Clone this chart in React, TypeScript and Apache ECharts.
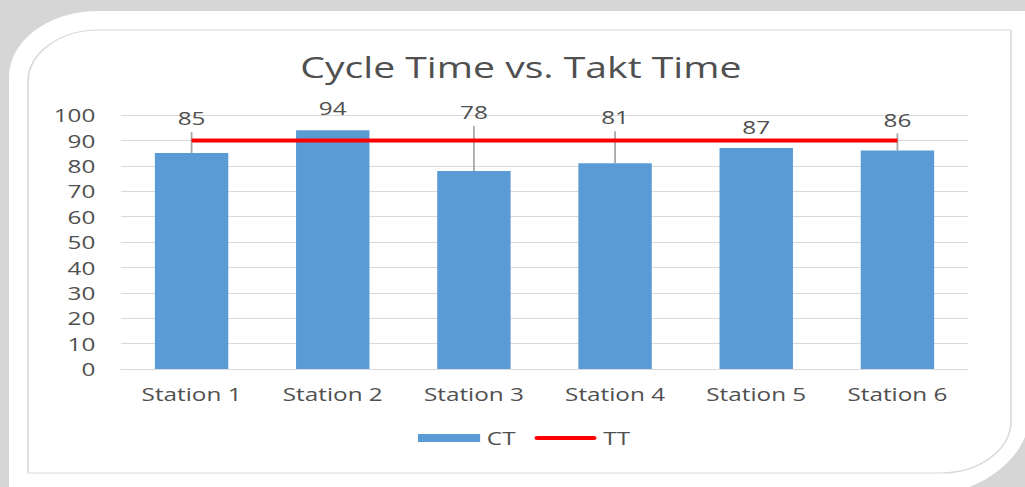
import React, { useEffect, useRef } from "react";
import * as echarts from "echarts";

const categories = ["Station 1", "Station 2", "Station 3", "Station 4", "Station 5", "Station 6"];
const ctValues = [85, 94, 78, 81, 87, 86];
const ttValues = [90, 90, 90, 90, 90, 90];
const yMin = 0;
const yMax = 100;
const yStep = 10;
const titleText = "Cycle Time vs. Takt Time";

// layout (pixels above bar top for data labels, leader line drawn when large)
const labelRaise = [21, 8, 45, 32, 7, 17];

const FULL_W = 1025;
const FULL_H = 487;
const CW = 759; // chart drawn at this width, then stretched horizontally to 1025
const SX = FULL_W / CW;
const FONT = "'Open Sans', 'DejaVu Sans', sans-serif";
const TEXT = "#505050";
const SHADE = "#d6d6d6";

function rectEl(x: number, y: number, w: number, h: number, fill: string, z: number) {
  return { type: "rect", z, silent: true, shape: { x, y, width: w, height: h }, style: { fill } };
}

function panelPieces(x0: number, y0: number, xr: number, yb: number, r1: number, r3: number, fill: string, z: number) {
  return [
    rectEl(x0 + r1, y0, xr - x0 - r1, yb - r3 - y0, fill, z),
    rectEl(x0, y0 + r1, xr - r3 - x0, yb - y0 - r1, fill, z),
    { type: "circle", z, silent: true, shape: { cx: x0 + r1, cy: y0 + r1, r: r1 }, style: { fill } },
    { type: "circle", z, silent: true, shape: { cx: xr - r3, cy: yb - r3, r: r3 }, style: { fill } },
  ];
}

function borderPieces(x0: number, y0: number, xr: number, yb: number, r: number, stroke: string, z: number) {
  const st = { stroke, lineWidth: 1.2, fill: "none" };
  return [
    { type: "line", z, silent: true, shape: { x1: x0 + r, y1: y0, x2: xr, y2: y0 }, style: st },
    { type: "line", z, silent: true, shape: { x1: xr, y1: y0, x2: xr, y2: yb - r }, style: st },
    { type: "line", z, silent: true, shape: { x1: xr - r, y1: yb, x2: x0, y2: yb }, style: st },
    { type: "line", z, silent: true, shape: { x1: x0, y1: yb, x2: x0, y2: y0 + r }, style: st },
    { type: "arc", z, silent: true, shape: { cx: x0 + r, cy: y0 + r, r, startAngle: Math.PI, endAngle: Math.PI * 1.5, clockwise: true }, style: st },
    { type: "arc", z, silent: true, shape: { cx: xr - r, cy: yb - r, r, startAngle: 0, endAngle: Math.PI * 0.5, clockwise: true }, style: st },
  ];
}

export default function App() {
  const ref = useRef<HTMLDivElement>(null);
  useEffect(() => {
    if (!ref.current) return;
    const chart = echarts.init(ref.current, null, { renderer: "svg" });
    const u = (x: number) => x / SX;
    const px0 = u(9), py0 = 11, pxr = u(1030), pyb = 497, r1 = 66, r3 = 85;
    chart.setOption({
      animation: false,
      backgroundColor: "#ffffff",
      textStyle: { fontFamily: FONT },
      graphic: [
        rectEl(0, 0, CW, py0, SHADE, -10),
        rectEl(0, 0, px0, FULL_H, SHADE, -10),
        rectEl(0, 0, px0 + r1, py0 + r1, SHADE, -10),
        rectEl(pxr - r3, pyb - r3, CW - (pxr - r3), FULL_H - (pyb - r3), SHADE, -10),
        ...panelPieces(px0, py0, pxr, pyb, r1, r3, "#ffffff", -8),
        ...borderPieces(u(28), 30, u(1011), 473, 52, "#d9d9d9", -7),
      ],
      title: {
        text: titleText,
        left: u(515) - 164,
        top: 47,
        textStyle: { fontFamily: FONT, fontSize: 29, fontWeight: "normal", color: TEXT },
      },
      legend: {
        left: u(418),
        top: 429,
        padding: 0,
        itemWidth: 46,
        itemHeight: 8,
        itemGap: 14,
        textStyle: { fontFamily: FONT, fontSize: 18, color: TEXT },
        data: [
          { name: "CT", icon: "rect" },
          { name: "TT", icon: "path://M2,0H44A2,2 0 0 1 44,4H2A2,2 0 0 1 2,0Z" },
        ],
      },
      grid: { left: u(121), right: CW - u(968), top: 115, bottom: FULL_H - 369 },
      xAxis: {
        type: "category",
        data: categories,
        axisLine: { show: true, lineStyle: { color: "#d9d9d9", width: 1.2 } },
        axisTick: { show: false },
        axisLabel: { margin: 16, fontFamily: FONT, fontSize: 18, color: TEXT },
      },
      yAxis: {
        type: "value",
        min: yMin,
        max: yMax,
        interval: yStep,
        axisLine: { show: false },
        axisTick: { show: false },
        splitLine: { lineStyle: { color: "#d9d9d9", width: 1.2 } },
        axisLabel: { margin: 19, fontFamily: FONT, fontSize: 18, color: TEXT },
      },
      series: [
        {
          name: "CT",
          type: "bar",
          barWidth: "52%",
          itemStyle: { color: "#5b9bd5" },
          label: {
            show: true,
            position: "top",
            distance: 5,
            fontFamily: FONT,
            fontSize: 18,
            color: TEXT,
          },
          data: ctValues.map((v, i) => ({ value: v, label: { offset: [0, -labelRaise[i]] } })),
        },
        {
          name: "leader",
          type: "custom",
          silent: true,
          data: ctValues.map((v, i) => [i, v]),
          renderItem: (params: any, api: any) => {
            const raise = labelRaise[params.dataIndex];
            if (raise <= 10) return null;
            const p = api.coord([api.value(0), api.value(1)]);
            return {
              type: "line",
              shape: { x1: p[0], y1: p[1], x2: p[0], y2: p[1] - raise },
              style: { stroke: "#a6a6a6", lineWidth: 1.3 },
            };
          },
        },
        {
          name: "TT",
          type: "line",
          data: ttValues,
          symbol: "none",
          itemStyle: { color: "#ff0000" },
          lineStyle: { color: "#ff0000", width: 4 },
        },
      ],
    });
    return () => chart.dispose();
  }, []);
  return (
    <div style={{ position: "absolute", left: 0, top: 0, width: FULL_W, height: FULL_H, overflow: "hidden" }}>
      <div
        ref={ref}
        style={{ width: CW, height: FULL_H, transform: `scaleX(${SX})`, transformOrigin: "0 0" }}
      />
    </div>
  );
}
